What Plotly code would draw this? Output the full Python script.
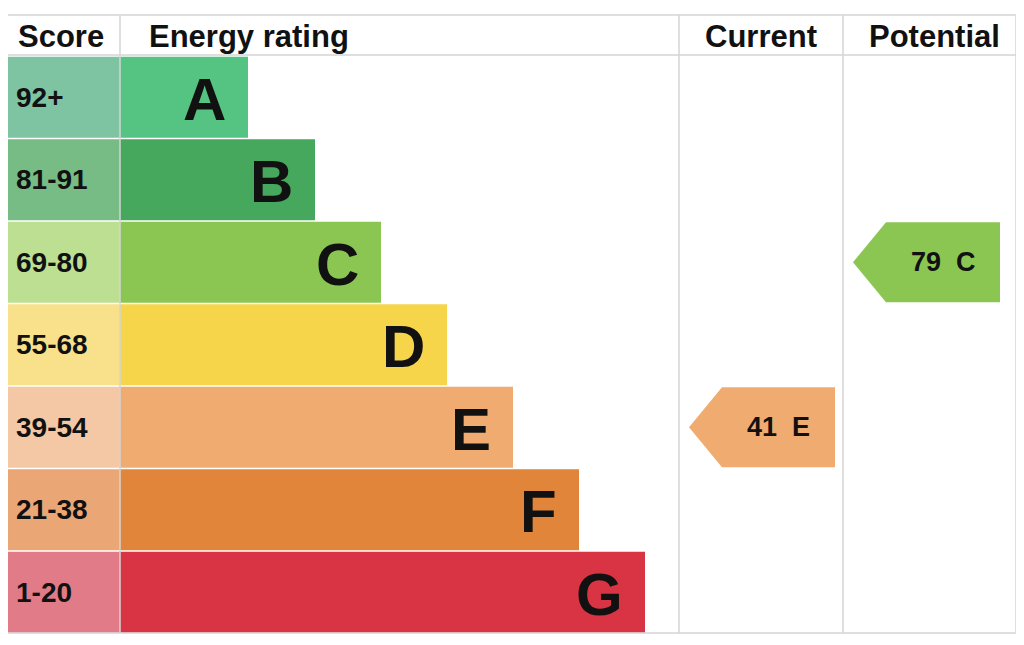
import plotly.graph_objects as go

ratings = ["A", "B", "C", "D", "E", "F", "G"]
score_bands = ["92+", "81-91", "69-80", "55-68", "39-54", "21-38", "1-20"]
bar_ends = [248, 315, 381, 447, 513, 579, 645]
bar_colors = ["#55c382", "#46a85c", "#8bc653", "#f7d54a", "#f0ab70", "#e0853a", "#d93444"]
score_colors = ["#7ec4a2", "#77bb85", "#bcdf91", "#f9e18b", "#f4c8a4", "#eba676", "#e07b87"]
current_value, current_rating = 41, "E"
potential_value, potential_rating = 79, "C"

top, row_h = 56, 82.5
centers = [top + row_h * (i + 0.5) for i in range(len(ratings))]
FONT = "Liberation Sans, Arial, sans-serif"

fig = go.Figure()
fig.add_trace(go.Bar(y=centers, x=[118] * 7, base=2, orientation="h", width=81,
                     marker=dict(color=score_colors, line_width=0), hoverinfo="skip"))
fig.add_trace(go.Bar(y=centers, x=[e - 120 for e in bar_ends], base=120, orientation="h",
                     width=81, marker=dict(color=bar_colors, line_width=0), hoverinfo="skip"))

for i, r in enumerate(ratings):
    fig.add_annotation(x=14, y=centers[i], text="<b>%s</b>" % score_bands[i], showarrow=False,
                       xanchor="left", font=dict(family=FONT, size=28, color="#111"))
    fig.add_annotation(x=bar_ends[i] - 20, y=centers[i] + 2, text="<b>%s</b>" % r, showarrow=False,
                       xanchor="right", font=dict(family=FONT, size=60, color="#111"))


def arrow(x0, x1, rating, value):
    i = ratings.index(rating)
    c = centers[i]
    h = 40
    xs = [x0, x0 + 33, x1, x1, x0 + 33, x0]
    ys = [c, c - h, c - h, c + h, c + h, c]
    fig.add_trace(go.Scatter(x=xs, y=ys, fill="toself", mode="lines", line_width=0,
                             fillcolor=bar_colors[i], hoverinfo="skip"))
    fig.add_annotation(x=(x0 + 33 + x1) / 2, y=c, text="<b>%d  %s</b>" % (value, rating),
                       showarrow=False, font=dict(family=FONT, size=27, color="#111"))


arrow(689, 835, current_rating, current_value)
arrow(853, 1000, potential_rating, potential_value)

headers = [("Score", 61), ("Energy rating", 249), ("Current", 761), ("Potential", 934)]
for t, x in headers:
    fig.add_annotation(x=x, y=36, text="<b>%s</b>" % t, showarrow=False,
                       font=dict(family=FONT, size=31, color="#111"))

lc = "#d4d4d4"
for y in [15, 55, 633]:
    fig.add_shape(type="line", x0=2, x1=1016, y0=y, y1=y, line=dict(color=lc, width=1.5))
for x in [2, 120, 679, 843, 1016]:
    fig.add_shape(type="line", x0=x, x1=x, y0=15, y1=633, line=dict(color=lc, width=1.5))

# page body has an 8px margin; shift ranges so coordinates line up with the window
fig.update_layout(width=1024, height=645, margin=dict(l=0, r=0, t=0, b=0),
                  plot_bgcolor="white", paper_bgcolor="white", showlegend=False, barmode="overlay",
                  xaxis=dict(range=[8, 1032], visible=False, fixedrange=True),
                  yaxis=dict(range=[653, 8], visible=False, fixedrange=True))
fig.write_html("out.html")
